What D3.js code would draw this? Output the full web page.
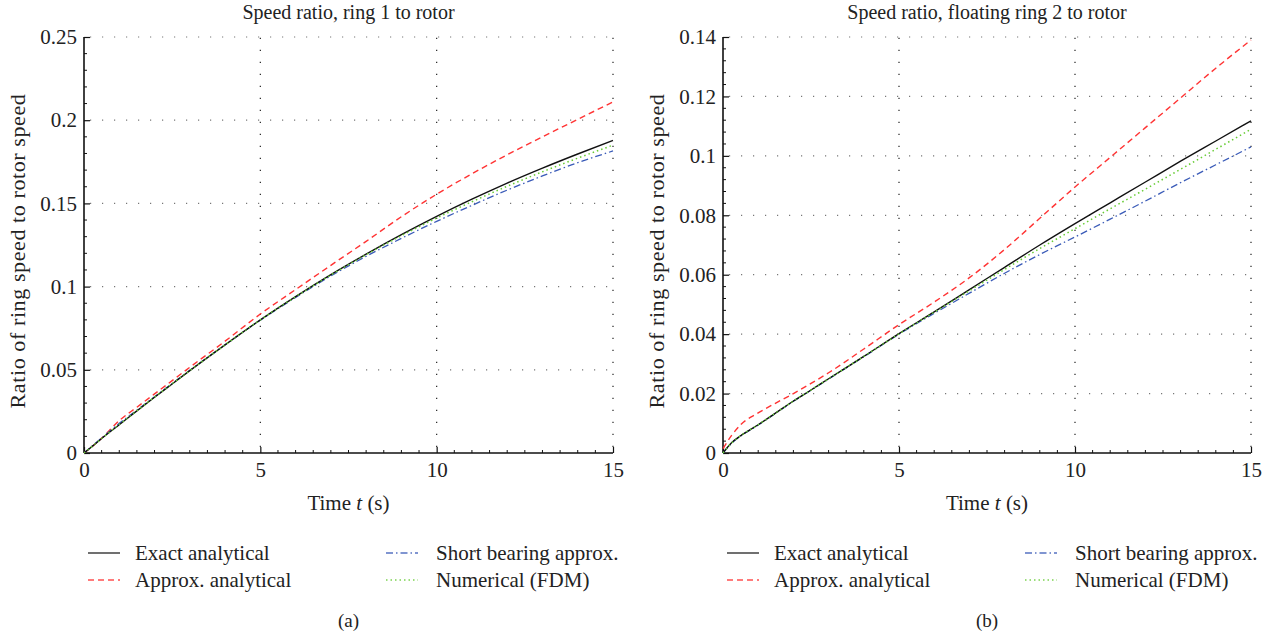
<!DOCTYPE html>
<html>
<head>
<meta charset="utf-8">
<script src="https://cdn.jsdelivr.net/npm/d3@7/dist/d3.min.js"></script>
<style>
  html, body { margin: 0; padding: 0; background: #fff; }
  svg text { font-family: "Liberation Serif", "DejaVu Serif", serif; fill: #222; }
</style>
</head>
<body>
<svg id="chart" width="1271" height="637"></svg>
<script>
// Time samples (s)
const time = [0, 0.25, 0.5, 1, 1.5, 2, 2.5, 3, 4, 5, 6, 7, 8, 9, 10, 11, 12, 13, 14, 15];

// Panel (a): ring 1 to rotor speed ratio
const ring1Exact   = [0, 0.0043, 0.0087, 0.0170, 0.0253, 0.0335, 0.0415, 0.0495, 0.0650, 0.0800, 0.0940, 0.1072, 0.1195, 0.1312, 0.1422, 0.1525, 0.1622, 0.1712, 0.1797, 0.1878];
const ring1Approx  = [0, 0.0042, 0.0088, 0.0195, 0.0275, 0.0355, 0.0435, 0.0515, 0.0672, 0.0835, 0.0982, 0.1128, 0.1272, 0.1420, 0.1555, 0.1678, 0.1792, 0.1900, 0.2005, 0.2110];
const ring1Short   = [0, 0.0045, 0.0090, 0.0178, 0.0258, 0.0338, 0.0418, 0.0497, 0.0650, 0.0798, 0.0935, 0.1064, 0.1182, 0.1290, 0.1392, 0.1488, 0.1580, 0.1665, 0.1745, 0.1815];
const ring1FDM     = [0, 0.0043, 0.0087, 0.0171, 0.0254, 0.0336, 0.0416, 0.0495, 0.0650, 0.0800, 0.0939, 0.1070, 0.1192, 0.1306, 0.1412, 0.1510, 0.1603, 0.1690, 0.1772, 0.1850];

// Panel (b): floating ring 2 to rotor speed ratio
const ring2Exact   = [0, 0.0035, 0.0058, 0.0095, 0.0135, 0.0175, 0.0212, 0.0250, 0.0325, 0.0402, 0.0475, 0.0550, 0.0625, 0.0700, 0.0772, 0.0842, 0.0912, 0.0982, 0.1050, 0.1118];
const ring2Approx  = [0.0015, 0.0060, 0.0095, 0.0135, 0.0168, 0.0200, 0.0234, 0.0270, 0.0350, 0.0432, 0.0508, 0.0590, 0.0685, 0.0790, 0.0895, 0.0995, 0.1095, 0.1195, 0.1295, 0.1390];
const ring2Short   = [0, 0.0033, 0.0057, 0.0094, 0.0134, 0.0174, 0.0211, 0.0249, 0.0324, 0.0400, 0.0470, 0.0538, 0.0605, 0.0668, 0.0727, 0.0787, 0.0848, 0.0910, 0.0970, 0.1030];
const ring2FDM     = [0, 0.0034, 0.0058, 0.0095, 0.0135, 0.0175, 0.0212, 0.0250, 0.0325, 0.0401, 0.0474, 0.0546, 0.0618, 0.0688, 0.0755, 0.0822, 0.0888, 0.0955, 0.1022, 0.1090];

// Tick labels
const xTicks = [0, 5, 10, 15];
const yTicksA = [0, 0.05, 0.1, 0.15, 0.2, 0.25];
const yTicksB = [0, 0.02, 0.04, 0.06, 0.08, 0.1, 0.12, 0.14];

const seriesNames = ["Exact analytical", "Approx. analytical", "Short bearing approx.", "Numerical (FDM)"];

// Line styles per series
const styles = {
  "Exact analytical":      { color: "#111111", dash: null,        width: 1.4 },
  "Approx. analytical":    { color: "#ff3333", dash: "6,4",       width: 1.4 },
  "Short bearing approx.": { color: "#3a5bb8", dash: "7,3,1.5,3", width: 1.3 },
  "Numerical (FDM)":       { color: "#66cc33", dash: "1.5,3",     width: 1.5 }
};

const svg = d3.select("#chart");

function drawPanel(cfg) {
  const { left, right, top, bottom, yMax, yTicks, yMinor, yFmt, title, label, series } = cfg;
  const x = d3.scaleLinear().domain([0, 15]).range([left, right]);
  const y = d3.scaleLinear().domain([0, yMax]).range([bottom, top]);
  const g = svg.append("g");

  // dotted grid
  yTicks.filter(v => v > 0).forEach(v => {
    g.append("line").attr("x1", x(0)).attr("x2", x(15)).attr("y1", y(v)).attr("y2", y(v))
      .attr("stroke", "#777").attr("stroke-width", 1.2).attr("stroke-dasharray", "1.2,10.8")
      .attr("stroke-dashoffset", -6);
  });
  xTicks.filter(v => v > 0).forEach(v => {
    g.append("line").attr("x1", x(v)).attr("x2", x(v)).attr("y1", y(0)).attr("y2", y(yMax))
      .attr("stroke", "#222").attr("stroke-width", 1.2).attr("stroke-dasharray", "1.2,10.8")
      .attr("stroke-dashoffset", -6);
  });

  // bottom axis with inward ticks
  const xAxis = d3.axisBottom(x).tickValues(xTicks).tickSize(-6).tickPadding(9).tickFormat(d3.format("d"));
  const gx = g.append("g").attr("transform", `translate(0,${bottom})`).call(xAxis);
  const xMinor = d3.range(0, 15.001, 0.5).filter(v => !xTicks.includes(v));
  g.append("g").selectAll("line").data(xMinor).join("line")
    .attr("x1", d => x(d)).attr("x2", d => x(d)).attr("y1", bottom).attr("y2", bottom - 3)
    .attr("stroke", "#111").attr("stroke-width", 1);

  // left axis with inward ticks
  const yAxis = d3.axisLeft(y).tickValues(yTicks).tickSize(-6).tickPadding(7).tickFormat(yFmt);
  const gy = g.append("g").attr("transform", `translate(${left},0)`).call(yAxis);
  const yMinorVals = d3.range(0, yMax + 1e-9, yMinor).filter(v => !yTicks.some(t => Math.abs(t - v) < 1e-9));
  g.append("g").selectAll("line").data(yMinorVals).join("line")
    .attr("x1", left).attr("x2", left + 3).attr("y1", d => y(d)).attr("y2", d => y(d))
    .attr("stroke", "#111").attr("stroke-width", 1);

  [gx, gy].forEach(a => {
    a.select(".domain").attr("stroke", "#111").attr("stroke-width", 1.6);
    a.selectAll(".tick line").attr("stroke", "#111").attr("stroke-width", 1.2);
    a.selectAll(".tick text").style("font-size", "21px").attr("fill", "#222");
  });
  gy.select(".domain").attr("d", `M0,${bottom}V${top}`);
  gx.select(".domain").attr("d", `M${left},0H${right}`);

  // curves
  const line = d3.line().x(d => x(d[0])).y(d => y(d[1])).curve(d3.curveMonotoneX);
  const order = ["Approx. analytical", "Short bearing approx.", "Exact analytical", "Numerical (FDM)"];
  order.forEach(name => {
    const vals = series[name];
    const st = styles[name];
    g.append("path").datum(time.map((t, i) => [t, vals[i]]))
      .attr("d", line).attr("fill", "none")
      .attr("stroke", st.color).attr("stroke-width", st.width)
      .attr("stroke-dasharray", st.dash);
  });

  const cx = (left + right) / 2;
  // title
  g.append("text").attr("x", cx).attr("y", 19).attr("text-anchor", "middle")
    .style("font-size", "20px").text(title);
  // x label
  const xl = g.append("text").attr("x", cx).attr("y", 510).attr("text-anchor", "middle").style("font-size", "21px");
  xl.append("tspan").text("Time ");
  xl.append("tspan").style("font-style", "italic").text("t");
  xl.append("tspan").text(" (s)");
  // y label
  g.append("text").attr("transform", `translate(${left - 59},${(top + bottom) / 2 + 6}) rotate(-90)`)
    .attr("text-anchor", "middle").style("font-size", "22px").style("letter-spacing", "0.6px")
    .text("Ratio of ring speed to rotor speed");

  // legend
  const legPos = [
    { name: "Exact analytical",      sx: left + 4,   tx: left + 51,  yy: 553 },
    { name: "Approx. analytical",    sx: left + 4,   tx: left + 51,  yy: 580 },
    { name: "Short bearing approx.", sx: left + 302, tx: left + 352, yy: 553 },
    { name: "Numerical (FDM)",       sx: left + 302, tx: left + 352, yy: 580 }
  ];
  legPos.forEach(p => {
    const st = styles[p.name];
    g.append("line").attr("x1", p.sx).attr("x2", p.sx + 32).attr("y1", p.yy).attr("y2", p.yy)
      .attr("stroke", st.color).attr("stroke-width", st.width).attr("stroke-dasharray", st.dash)
      .attr("opacity", 0.85);
    g.append("text").attr("x", p.tx).attr("y", p.yy + 7)
      .style("font-size", "21px").text(p.name);
  });

  // panel tag
  g.append("text").attr("x", cx).attr("y", 627).attr("text-anchor", "middle")
    .style("font-size", "19px").text(label);
}

drawPanel({
  left: 84, right: 613, top: 37, bottom: 453, yMax: 0.25,
  yTicks: yTicksA, yMinor: 0.01, yFmt: d => d === 0 ? "0" : String(+d.toFixed(2)),
  title: "Speed ratio, ring 1 to rotor", label: "(a)",
  series: {
    "Exact analytical": ring1Exact, "Approx. analytical": ring1Approx,
    "Short bearing approx.": ring1Short, "Numerical (FDM)": ring1FDM
  }
});

drawPanel({
  left: 723, right: 1251, top: 37, bottom: 453, yMax: 0.14,
  yTicks: yTicksB, yMinor: 0.004, yFmt: d => d === 0 ? "0" : String(+d.toFixed(2)),
  title: "Speed ratio, floating ring 2 to rotor", label: "(b)",
  series: {
    "Exact analytical": ring2Exact, "Approx. analytical": ring2Approx,
    "Short bearing approx.": ring2Short, "Numerical (FDM)": ring2FDM
  }
});
</script>
</body>
</html>
